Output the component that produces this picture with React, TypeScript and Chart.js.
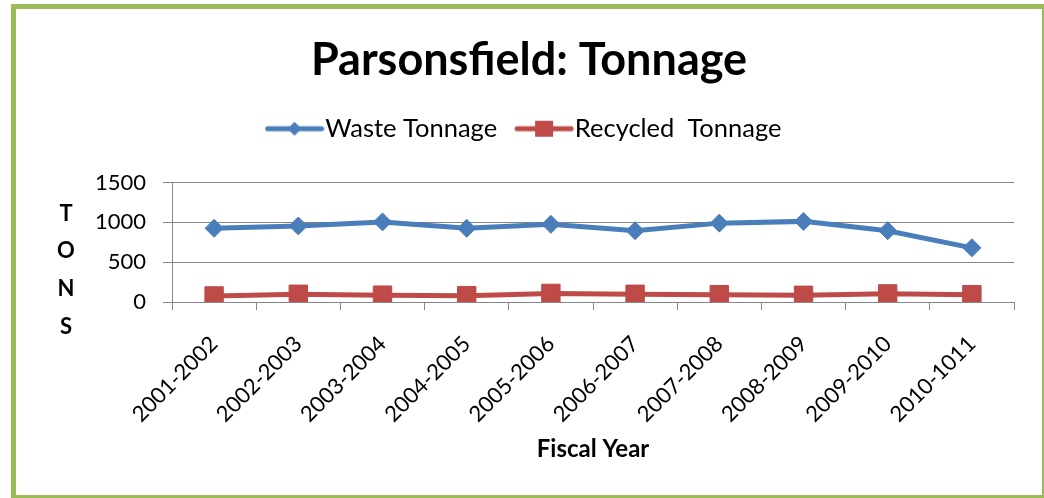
import React, { useEffect, useRef } from 'react';
import { Chart, registerables } from 'chart.js';

Chart.register(...registerables);

const categories = [
  '2001-2002', '2002-2003', '2003-2004', '2004-2005', '2005-2006',
  '2006-2007', '2007-2008', '2008-2009', '2009-2010', '2010-1011',
];
const wasteTonnage = [925, 955, 1005, 925, 975, 895, 990, 1012, 895, 680];
const recycledTonnage = [76, 97, 86, 80, 108, 97, 92, 84, 102, 92];
const yTickValues = [0, 500, 1000, 1500];
const yTitleLetters = ['T', 'O', 'N', 'S'];
const seriesNames = ['Waste Tonnage', 'Recycled  Tonnage'];
const titleText = 'Parsonsfield: Tonnage';
const xTitleText = 'Fiscal Year';

const BLUE = '#4A7EBB';
const RED = '#BE4B48';
const GRID = '#868686';
const FONT = 'Lato';

function makeLegendImage(color: string, marker: 'diamond' | 'square') {
  const c = document.createElement('canvas');
  c.width = 60;
  c.height = 22;
  const ctx = c.getContext('2d')!;
  ctx.strokeStyle = color;
  ctx.fillStyle = color;
  ctx.lineWidth = 5;
  ctx.lineCap = 'round';
  ctx.beginPath();
  ctx.moveTo(3, 11);
  ctx.lineTo(57, 11);
  ctx.stroke();
  ctx.beginPath();
  if (marker === 'diamond') {
    ctx.moveTo(30 - 7, 11);
    ctx.lineTo(30, 4);
    ctx.lineTo(30 + 7, 11);
    ctx.lineTo(30, 18);
    ctx.closePath();
  } else {
    ctx.rect(30 - 9, 11 - 8, 18, 16);
  }
  ctx.fill();
  return c;
}

const layoutTweaks = {
  id: 'layoutTweaks',
  beforeInit(chart: any) {
    const legend = chart.legend;
    if (legend) {
      const orig = legend.fit;
      legend.fit = function () {
        orig.call(this);
        this.height += 31;
      };
    }
  },
  afterDraw(chart: any) {
    const ctx = chart.ctx;
    const area = chart.chartArea;
    ctx.save();
    ctx.font = `bold 22px ${FONT}`;
    ctx.fillStyle = '#000';
    ctx.textAlign = 'center';
    ctx.textBaseline = 'middle';
    yTitleLetters.forEach((l, i) => {
      ctx.fillText(l, area.left - 106, area.top + 31 + i * 37.7);
    });
    ctx.restore();
  },
};

export default function App() {
  const ref = useRef<HTMLCanvasElement>(null);

  useEffect(() => {
    const imgs = [makeLegendImage(BLUE, 'diamond'), makeLegendImage(RED, 'square')];
    const chart = new Chart(ref.current!, {
      type: 'line',
      data: {
        labels: categories,
        datasets: [
          {
            label: seriesNames[0],
            data: wasteTonnage,
            borderColor: BLUE,
            backgroundColor: BLUE,
            borderWidth: 5,
            pointStyle: 'rectRot',
            pointRadius: 9,
            pointBorderWidth: 1,
            pointBackgroundColor: BLUE,
            pointBorderColor: BLUE,
            tension: 0,
          },
          {
            label: seriesNames[1],
            data: recycledTonnage,
            borderColor: RED,
            backgroundColor: RED,
            borderWidth: 5,
            pointStyle: 'rect',
            pointRadius: 13,
            pointBorderWidth: 1,
            pointBackgroundColor: RED,
            pointBorderColor: RED,
            tension: 0,
          },
        ],
      },
      options: {
        responsive: false,
        animation: false,
        layout: { padding: { left: 28, right: 28, top: 0, bottom: 31 } },
        plugins: {
          title: {
            display: true,
            text: titleText,
            color: '#000',
            font: { family: FONT, size: 45, weight: 'bold', lineHeight: 1.2 },
            padding: { top: 24, bottom: 0 },
          },
          legend: {
            display: true,
            labels: {
              usePointStyle: true,
              pointStyleWidth: 36,
              color: '#000',
              font: { family: FONT, size: 25.5 },
              padding: 29,
              generateLabels: () =>
                seriesNames.map((name, i) => ({
                  text: name,
                  pointStyle: imgs[i] as any,
                  fillStyle: 'transparent',
                  strokeStyle: 'transparent',
                  lineWidth: 0,
                  datasetIndex: i,
                  hidden: false,
                })),
            },
          },
          tooltip: { enabled: false },
        },
        scales: {
          x: {
            offset: true,
            afterFit: (scale: any) => {
              scale.height = 162;
            },
            grid: {
              offset: true,
              drawOnChartArea: false,
              drawTicks: true,
              tickLength: 8,
              color: GRID,
            },
            border: { display: true, color: GRID, width: 1 },
            ticks: {
              color: '#000',
              font: { family: FONT, size: 22 },
              maxRotation: 45,
              minRotation: 45,
              padding: 21,
            },
            title: {
              display: true,
              text: xTitleText,
              color: '#000',
              font: { family: FONT, size: 24, weight: 'bold' },
              padding: { top: 4, bottom: 0 },
            },
          },
          y: {
            min: 0,
            max: 1500,
            afterBuildTicks: (scale: any) => {
              scale.ticks = yTickValues.map((v) => ({ value: v }));
            },
            afterFit: (scale: any) => {
              scale.width = 128;
            },
            grid: {
              color: GRID,
              drawTicks: true,
              tickLength: 9,
            },
            border: { display: true, color: GRID, width: 1 },
            ticks: {
              color: '#000',
              font: { family: FONT, size: 22 },
              padding: 17,
              callback: (v: any) => String(v),
            },
          },
        },
      },
      plugins: [layoutTweaks],
    });
    return () => chart.destroy();
  }, []);

  return (
    <div
      style={{
        position: 'fixed',
        left: 11,
        top: 4,
        width: 1036,
        height: 496,
        border: '5px solid #9BBB59',
        boxSizing: 'border-box',
        background: '#fff',
      }}
    >
      <canvas ref={ref} width={1026} height={486} style={{ display: 'block' }} />
    </div>
  );
}
